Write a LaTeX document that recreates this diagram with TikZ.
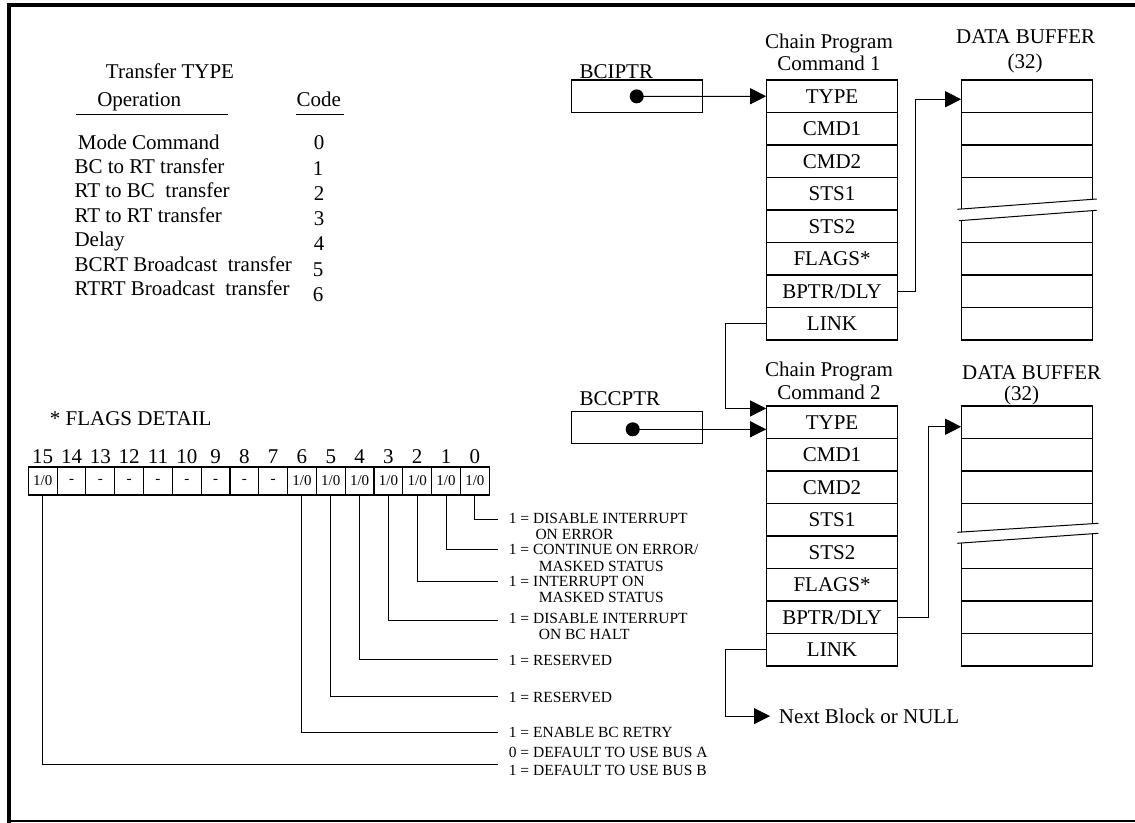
\documentclass[tikz,border=0pt]{standalone}
\usepackage{fontspec}
\setmainfont{Liberation Serif}
\usetikzlibrary{arrows.meta}
\newcommand\fa{\fontsize{21}{25}\selectfont}
\newcommand\fb{\fontsize{15.5}{16}\selectfont}
\newcommand\fc{\fontsize{15}{16}\selectfont}
\begin{document}
\begin{tikzpicture}[x=1pt,y=-1pt,line width=1.1pt,
  txt/.style={inner sep=0pt,anchor=base west},
  ctxt/.style={inner sep=0pt,anchor=base},
  fld/.style={draw,minimum width=130.6pt,minimum height=32.5pt,inner sep=0pt,font=\fa,text height=13.6pt,text depth=0pt},
  bcell/.style={draw,minimum width=131pt,minimum height=32.5pt,inner sep=0pt},
  pbox/.style={draw,minimum width=130.6pt,minimum height=32.7pt,inner sep=0pt},
  cell/.style={draw,minimum width=28.81pt,minimum height=28pt,inner sep=0pt,font=\fc},
  arr/.style={-{Triangle[length=16pt,width=16pt]}},
  lead/.style={line width=1pt},
  dotc/.style={circle,fill,inner sep=0pt,minimum size=14pt}]
\useasboundingbox (0,0) rectangle (1135,822);
% frame
\draw[line width=4.5pt] (9,830) -- (9,5) -- (1145,5);
\draw[line width=2.5pt] (9,821) -- (1145,821);
% transfer type table
\node[ctxt,font=\fa] (ttl) at (170,78.3) {Transfer TYPE};
\node[txt,font=\fa] (hop) at (96.7,106.7) {Operation};
\node[txt,font=\fa] (hcode) at (296,106.7) {Code};
\draw[lead] (76,114) -- (228,114);
\draw[lead] (296,114) -- (344,114);
\node[txt,font=\fa] (r0) at (77.3,149) {Mode Command};
\node[txt,font=\fa] (r1) at (74,173.4) {BC to RT transfer};
\node[txt,font=\fa] (r2) at (74,197.8) {RT to BC\ \ transfer};
\node[txt,font=\fa] (r3) at (74,222.2) {RT to RT transfer};
\node[txt,font=\fa] (r4) at (74,246.6) {Delay};
\node[txt,font=\fa] (r5) at (74,271) {BCRT Broadcast\ \ transfer};
\node[txt,font=\fa] (r6) at (74,295.4) {RTRT Broadcast\ \ transfer};
\node[ctxt,font=\fa] (k0) at (319,149) {0};
\node[ctxt,font=\fa] (k1) at (318,175) {1};
\node[ctxt,font=\fa] (k2) at (319,200) {2};
\node[ctxt,font=\fa] (k3) at (319,225) {3};
\node[ctxt,font=\fa] (k4) at (319,250) {4};
\node[ctxt,font=\fa] (k5) at (318,276) {5};
\node[ctxt,font=\fa] (k6) at (318,301.7) {6};
% flags detail
\node[txt,font=\fa] (fd) at (49.3,425) {* FLAGS DETAIL};
\foreach \i in {0,...,15}{
  \pgfmathsetmacro\cx{42.7+28.81*(15-\i)}
  \ifnum\i>6 \ifnum\i<15
    \node[cell] (b\i) at (\cx,481) {-};
  \else
    \node[cell] (b\i) at (\cx,481) {1/0};
  \fi\else
    \node[cell] (b\i) at (\cx,481) {1/0};
  \fi
  \node[ctxt,font=\fa] (n\i) at (\cx,463.3) {\i};
}
\coordinate (e0) at (497.7,519.3);
\coordinate (e1) at (497.7,549.3);
\coordinate (e2) at (497.7,581.7);
\coordinate (e3) at (497.7,620);
\coordinate (e4) at (497.7,659);
\coordinate (e5) at (497.7,696);
\coordinate (e6) at (497.7,732.3);
\coordinate (e15) at (497.7,764);
\foreach \i in {0,1,2,3,4,5,6,15}{\draw[lead] (b\i.south) |- (e\i);}
\node[txt,font=\fb] (l0a) at (508.3,523.3) {1 = DISABLE INTERRUPT};
\node[txt,font=\fb] (l0b) at (535,539) {ON ERROR};
\node[txt,font=\fb] (l1a) at (508.3,554.3) {1 = CONTINUE ON ERROR/};
\node[txt,font=\fb] (l1b) at (538.3,571) {MASKED STATUS};
\node[txt,font=\fb] (l2a) at (508.3,586.7) {1 = INTERRUPT ON};
\node[txt,font=\fb] (l2b) at (538.3,602.7) {MASKED STATUS};
\node[txt,font=\fb] (l3a) at (508.3,623.3) {1 = DISABLE INTERRUPT};
\node[txt,font=\fb] (l3b) at (538.3,639.3) {ON BC HALT};
\node[txt,font=\fb] (l4) at (508.3,665) {1 = RESERVED};
\node[txt,font=\fb] (l5) at (508.3,702.3) {1 = RESERVED};
\node[txt,font=\fb] (l6) at (508.3,737.7) {1 = ENABLE BC RETRY};
\node[txt,font=\fb] (l15a) at (508.3,757.3) {0 = DEFAULT TO USE BUS A};
\node[txt,font=\fb] (l15b) at (508.3,775) {1 = DEFAULT TO USE BUS B};
% pointers
\node[pbox] (ip) at (637,96.35) {};
\node[txt,font=\fa] (iplbl) at (579,78) {BCIPTR};
\node[dotc] (ipd) at (636.7,96.35) {};
\node[pbox] (cp) at (637,427.5) {};
\node[txt,font=\fa] (cplbl) at (579,405.7) {BCCPTR};
\node[dotc] (cpd) at (632.7,429.3) {};
% chain program commands
\foreach \n/\t [count=\k from 0] in {type/TYPE,cmda/CMD1,cmdb/CMD2,stsa/STS1,stsb/STS2,flags/FLAGS*,bptr/{BPTR/DLY},link/LINK}{
  \node[fld] (a\n) at (832,96.25+32.5*\k) {\t};
  \node[fld] (b\n) at (832,422.25+32.5*\k) {\t};
}
\node[ctxt,font=\fa] (h1a) at (829,48.3) {Chain Program};
\node[ctxt,font=\fa] (h1b) at (829,70) {Command 1};
\node[ctxt,font=\fa] (h2a) at (829,376.7) {Chain Program};
\node[ctxt,font=\fa] (h2b) at (829,399.3) {Command 2};
% data buffers
\node[ctxt,font=\fa] (d1a) at (1025.7,43.3) {DATA BUFFER};
\node[ctxt,font=\fa] (d1b) at (1025,68.3) {(32)};
\node[ctxt,font=\fa] (d2a) at (1031.7,379) {DATA BUFFER};
\node[ctxt,font=\fa] (d2b) at (1021.7,400) {(32)};
\node[bcell] (p1) at (1027.2,96.25) {};
\node[bcell] (p2) at (1027.2,128.75) {};
\node[bcell] (p3) at (1027.2,161.25) {};
\node[bcell,minimum height=65pt] (p45) at (1027.2,210) {};
\node[bcell] (p6) at (1027.2,258.75) {};
\node[bcell] (p7) at (1027.2,291.25) {};
\node[bcell] (p8) at (1027.2,323.75) {};
\fill[white] (957.3,209.3) -- (1096.7,199) -- (1096.7,210.3) -- (959,220.7) -- cycle;
\draw[lead] (957.3,209.3) -- (1096.7,199);
\draw[lead] (959,220.7) -- (1096.7,210.3);
\node[bcell] (q1) at (1027.2,422.25) {};
\node[bcell] (q2) at (1027.2,454.75) {};
\node[bcell] (q3) at (1027.2,487.25) {};
\node[bcell,minimum height=65pt] (q45) at (1027.2,536) {};
\node[bcell] (q6) at (1027.2,584.75) {};
\node[bcell] (q7) at (1027.2,617.25) {};
\node[bcell] (q8) at (1027.2,649.75) {};
\fill[white] (957.3,532.3) -- (1098.3,523.3) -- (1098.3,533.3) -- (957.3,543.3) -- cycle;
\draw[lead] (957.3,532.3) -- (1098.3,523.3);
\draw[lead] (957.3,543.3) -- (1098.3,533.3);
% connectors
\draw[lead,arr] (ipd.center) -- (atype.west);
\draw[lead,arr] (cpd.center) -- (cpd.center -| btype.west);
\draw[lead,arr] (alink.west) -- ++(-40.7,0) |- ([yshift=-3pt]btype.north west);
\draw[lead,arr] (abptr.east) -- ++(17.7,0) |- ([yshift=-3pt]p1.west);
\draw[lead,arr] (bbptr.east) -- ++(30.4,0) |- ([yshift=-4.5pt]q1.west);
\node[font=\fa,anchor=base west,inner xsep=8.3pt,inner ysep=0pt] (nxt) at (770,723.3) {Next Block or NULL};
\draw[lead,arr] (blink.west) -- ++(-41,0) |- (nxt.west);
\end{tikzpicture}
\end{document}
